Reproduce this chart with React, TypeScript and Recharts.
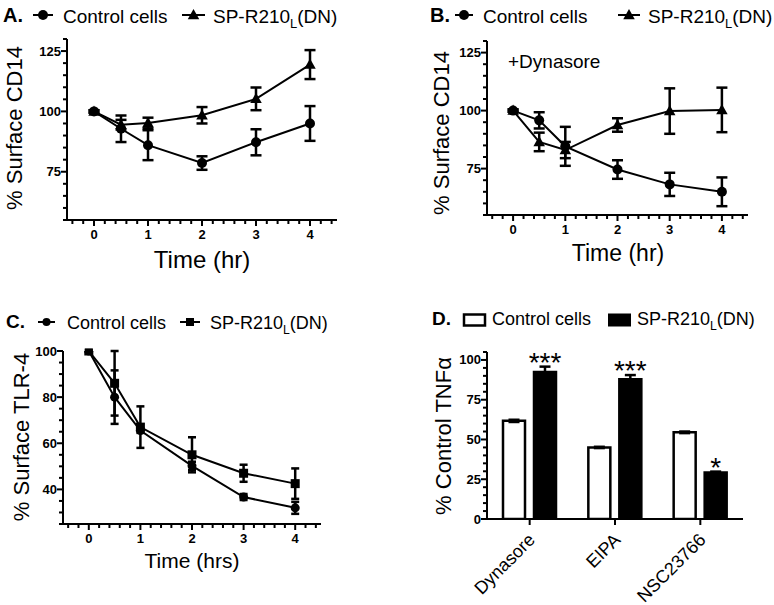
import React from 'react';
import { ComposedChart, Line, Bar, XAxis, YAxis, ErrorBar, LabelList } from 'recharts';

const FONT = '"Liberation Sans", Arial, Helvetica, sans-serif';

// time points (hr)
const hours = [0, 0.5, 1, 2, 3, 4];

// A. surface CD14
const ctrlA = [100, 92.8, 86, 78.6, 87.2, 95];
const ctrlAErr = [0.5, 5.5, 6.2, 2.8, 5.4, 7.2];
const spA = [100, 94.5, 95.2, 98.4, 105.2, 119.4];
const spAErr = [0.5, 2, 2.2, 3.4, 4.7, 6];

// B. surface CD14, +Dynasore
const ctrlB = [100, 95.8, 84.6, 74.6, 68.2, 65];
const ctrlBErr = [0.5, 3.5, 8.4, 4, 5, 6.2];
const spB = [100, 86.5, 83, 93.8, 99.8, 100.3];
const spBErr = [0.5, 4, 3.5, 2.9, 9.8, 9.6];

// C. surface TLR-4
const ctrlC = [100, 80, 65.5, 50.2, 36.7, 32];
const ctrlCErr = [0.5, 11.6, 1, 1.8, 1.3, 2.6];
const spC = [100, 86, 67, 55, 47, 42.5];
const spCErr = [0.5, 14, 9, 7.6, 3.7, 6.6];

// D. TNFa
const drugs = ['Dynasore', 'EIPA', 'NSC23766'];
const ctrlD = [61.7, 45, 54.5];
const ctrlDErr = [0.7, 0.4, 0.5];
const spD = [92.5, 87.8, 29.2];
const spDErr = [3.3, 2.7, 0.6];
const stars = ['***', '***', '*'];

// ticks (major ones get labels)
const timeTicks = [0, 1, 2, 3, 4];
const timeMinor = [-0.4, -0.2, 0, 0.2, 0.4, 0.6, 0.8, 1, 1.2, 1.4, 1.6, 1.8, 2, 2.2, 2.4, 2.6, 2.8, 3, 3.2, 3.4, 3.6, 3.8, 4, 4.2, 4.4];
const cd14Ticks = [75, 100, 125];
const cd14Minor = [55, 60, 65, 70, 75, 80, 85, 90, 95, 100, 105, 110, 115, 120, 125, 130];
const tlrTicks = [40, 60, 80, 100];
const tlrMinor = [25, 30, 35, 40, 45, 50, 55, 60, 65, 70, 75, 80, 85, 90, 95, 100];
const tnfTicks = [0, 25, 50, 75, 100];
const tnfMinor = [0, 5, 10, 15, 20, 25, 30, 35, 40, 45, 50, 55, 60, 65, 70, 75, 80, 85, 90, 95, 100, 105];

const dataA = hours.map((t, i) => ({ t, ctrl: ctrlA[i], ctrlErr: ctrlAErr[i], sp: spA[i], spErr: spAErr[i] }));
const dataB = hours.map((t, i) => ({ t, ctrl: ctrlB[i], ctrlErr: ctrlBErr[i], sp: spB[i], spErr: spBErr[i] }));
const dataC = hours.map((t, i) => ({ t, ctrl: ctrlC[i], ctrlErr: ctrlCErr[i], sp: spC[i], spErr: spCErr[i] }));
const dataD = drugs.map((drug, i) => ({ drug, ctrl: ctrlD[i], ctrlErr: ctrlDErr[i], sp: spD[i], spErr: spDErr[i], star: stars[i] }));

function Shape({ kind, cx, cy, s }: { kind: string; cx: number; cy: number; s: number }) {
  if (kind === 'tri') {
    return (
      <polygon
        points={`${cx},${cy - s * 1.2} ${cx - s * 1.15},${cy + s * 0.85} ${cx + s * 1.15},${cy + s * 0.85}`}
        fill="#000"
      />
    );
  }
  if (kind === 'sq') return <rect x={cx - s} y={cy - s} width={s * 2} height={s * 2} fill="#000" />;
  return <circle cx={cx} cy={cy} r={s} fill="#000" />;
}

const dotOf = (kind: string, s: number) => (p: any) => {
  if (p.cx == null || p.cy == null) return <g key={p.key} />;
  return <Shape key={p.key} kind={kind} cx={p.cx} cy={p.cy} s={s} />;
};

const axisStroke = { stroke: '#000', strokeWidth: 2 };

// ticks drawn by hand so minor ticks can be shorter and unlabeled
const xTickOf = (majors: number[]) => (props: any) => {
  const { x, y, payload } = props;
  const major = majors.includes(payload.value);
  return (
    <g>
      <path d={`M${x},${y}V${y + (major ? 6 : 4)}`} stroke="#000" strokeWidth={2} fill="none" />
      {major && (
        <text x={x} y={y + 19} textAnchor="middle" fontSize={13} fontWeight="bold" fontFamily={FONT} fill="#000">
          {payload.value}
        </text>
      )}
    </g>
  );
};

const yTickOf = (majors: number[]) => (props: any) => {
  const { x, y, payload } = props;
  const major = majors.includes(payload.value);
  return (
    <g>
      <path d={`M${x},${y}H${x - (major ? 6 : 4)}`} stroke="#000" strokeWidth={2} fill="none" />
      {major && (
        <text x={x - 6} y={y + 4.5} textAnchor="end" fontSize={13} fontWeight="bold" fontFamily={FONT} fill="#000">
          {payload.value}
        </text>
      )}
    </g>
  );
};

function TimeChart(props: any) {
  const { data, margin, yDomain, yTicks, yMinor, ctrlKind, spKind, ctrlSize, spSize, cap } = props;
  return (
    <ComposedChart width={387} height={props.height} data={data} margin={margin}>
      <XAxis dataKey="t" type="number" domain={[-0.5, 4.5]} ticks={timeMinor} interval={0} height={30}
        axisLine={axisStroke} tickLine={false} tickSize={0} tickMargin={0} tick={xTickOf(timeTicks)} allowDataOverflow />
      <YAxis type="number" domain={yDomain} ticks={yMinor} interval={0} width={50}
        axisLine={axisStroke} tickLine={false} tickSize={0} tickMargin={0} tick={yTickOf(yTicks)} allowDataOverflow />
      <Line dataKey="ctrl" stroke="#000" strokeWidth={2} dot={dotOf(ctrlKind, ctrlSize)} activeDot={false} isAnimationActive={false}>
        <ErrorBar dataKey="ctrlErr" direction="y" width={cap} strokeWidth={2.5} stroke="#000" />
      </Line>
      <Line dataKey="sp" stroke="#000" strokeWidth={2} dot={dotOf(spKind, spSize)} activeDot={false} isAnimationActive={false}>
        <ErrorBar dataKey="spErr" direction="y" width={cap} strokeWidth={2.5} stroke="#000" />
      </Line>
    </ComposedChart>
  );
}

const CatTick = (props: any) => {
  const { x, y, payload } = props;
  const px = x + 6.5;
  const py = y + 14;
  return (
    <text x={px} y={py} transform={`rotate(-45 ${px} ${py})`} textAnchor="end" fontSize={18} fontFamily={FONT} fill="#000">
      {payload.value}
    </text>
  );
};

const StarLabel = (props: any) => {
  const { x, y, width, height, value, index } = props;
  const errPx = height > 0 ? (spDErr[index] * height) / spD[index] : 0;
  return (
    <text x={x + width / 2} y={y - errPx + 5} textAnchor="middle" fontSize={28} fontFamily={FONT} fill="#000">
      {value}
    </text>
  );
};

function SpText({ x, y, size }: { x: number; y: number; size: number }) {
  return (
    <text x={x} y={y} fontSize={size} fontFamily={FONT} fill="#000">
      SP-R210<tspan fontSize={size * 0.68} dy={5}>L</tspan><tspan dy={-5}>(DN)</tspan>
    </text>
  );
}

function LineKey({ x1, x2, y, kind, s }: { x1: number; x2: number; y: number; kind: string; s: number }) {
  return (
    <g>
      <line x1={x1} x2={x2} y1={y} y2={y} stroke="#000" strokeWidth={2} />
      <Shape kind={kind} cx={(x1 + x2) / 2} cy={y} s={s} />
    </g>
  );
}

const overlay: React.CSSProperties = { position: 'absolute', left: 0, top: 0, pointerEvents: 'none' };

function VTitle({ x, y, size, children }: any) {
  return (
    <text transform={`translate(${x} ${y}) rotate(-90)`} textAnchor="middle" fontSize={size} fontFamily={FONT} fill="#000">
      {children}
    </text>
  );
}

export default function App() {
  return (
    <div style={{ position: 'absolute', left: 0, top: 0, width: 774, height: 605, background: '#fff', overflow: 'hidden' }}>
      {/* A */}
      <div style={{ position: 'absolute', left: 0, top: 0, width: 387, height: 290 }}>
        <TimeChart data={dataA} height={290} margin={{ top: 39, right: 50, bottom: 40, left: 17 }}
          yDomain={[55, 130]} yTicks={cd14Ticks} yMinor={cd14Minor}
          ctrlKind="circle" spKind="tri" ctrlSize={5} spSize={5} cap={5.5} />
        <svg width={387} height={290} style={overlay}>
          <text x={3} y={22} fontSize={20} fontWeight="bold" fontFamily={FONT}>A.</text>
          <LineKey x1={33} x2={53} y={15} kind="circle" s={5} />
          <text x={63} y={23} fontSize={19} fontFamily={FONT}>Control cells</text>
          <LineKey x1={182} x2={205} y={15} kind="tri" s={5} />
          <SpText x={213} y={23} size={19} />
          <VTitle x={22} y={128} size={22}>% Surface CD14</VTitle>
          <text x={202} y={268} textAnchor="middle" fontSize={24} fontFamily={FONT}>Time (hr)</text>
        </svg>
      </div>
      {/* B */}
      <div style={{ position: 'absolute', left: 387, top: 0, width: 387, height: 290 }}>
        <TimeChart data={dataB} height={290} margin={{ top: 41, right: 26, bottom: 45, left: 50 }}
          yDomain={[55, 130]} yTicks={cd14Ticks} yMinor={cd14Minor}
          ctrlKind="circle" spKind="tri" ctrlSize={5} spSize={5} cap={5.5} />
        <svg width={387} height={290} style={overlay}>
          <text x={43} y={22} fontSize={20} fontWeight="bold" fontFamily={FONT}>B.</text>
          <LineKey x1={68} x2={86} y={15} kind="circle" s={5} />
          <text x={96} y={23} fontSize={19} fontFamily={FONT}>Control cells</text>
          <LineKey x1={231} x2={253} y={15} kind="tri" s={5} />
          <SpText x={261} y={23} size={19} />
          <text x={121} y={68} fontSize={19} fontFamily={FONT}>+Dynasore</text>
          <VTitle x={62} y={133} size={22}>% Surface CD14</VTitle>
          <text x={231} y={261} textAnchor="middle" fontSize={23} fontFamily={FONT}>Time (hr)</text>
        </svg>
      </div>
      {/* C */}
      <div style={{ position: 'absolute', left: 0, top: 290, width: 387, height: 315 }}>
        <TimeChart data={dataC} height={315} margin={{ top: 61, right: 66, bottom: 51, left: 13 }}
          yDomain={[25, 100]} yTicks={tlrTicks} yMinor={tlrMinor}
          ctrlKind="circle" spKind="sq" ctrlSize={4.5} spSize={4.5} cap={4} />
        <svg width={387} height={315} style={overlay}>
          <text x={6} y={38} fontSize={19} fontWeight="bold" fontFamily={FONT}>C.</text>
          <LineKey x1={38} x2={55} y={32} kind="circle" s={4} />
          <text x={67} y={39} fontSize={18} fontFamily={FONT}>Control cells</text>
          <LineKey x1={180} x2={200} y={32} kind="sq" s={4} />
          <SpText x={210} y={39} size={18} />
          <VTitle x={29} y={147} size={22}>% Surface TLR-4</VTitle>
          <text x={192} y={278} textAnchor="middle" fontSize={21} fontFamily={FONT}>Time (hrs)</text>
        </svg>
      </div>
      {/* D */}
      <div style={{ position: 'absolute', left: 387, top: 290, width: 387, height: 315 }}>
        <ComposedChart width={387} height={315} data={dataD} margin={{ top: 62, right: 31, bottom: 56, left: 50 }}
          barSize={22} barGap={9}>
          <XAxis dataKey="drug" type="category" height={30} interval={0} axisLine={axisStroke}
            tickLine={axisStroke} tickSize={6} tick={CatTick} />
          <YAxis type="number" domain={[0, 105]} ticks={tnfMinor} interval={0} width={50}
            axisLine={axisStroke} tickLine={false} tickSize={0} tickMargin={0} tick={yTickOf(tnfTicks)} allowDataOverflow />
          <Bar dataKey="ctrl" fill="#fff" stroke="#000" strokeWidth={2.5} isAnimationActive={false}>
            <ErrorBar dataKey="ctrlErr" direction="y" width={5.5} strokeWidth={2.5} stroke="#000" />
          </Bar>
          <Bar dataKey="sp" fill="#000" stroke="#000" strokeWidth={2.5} isAnimationActive={false}>
            <ErrorBar dataKey="spErr" direction="y" width={5.5} strokeWidth={2.5} stroke="#000" />
            <LabelList dataKey="star" content={StarLabel} />
          </Bar>
        </ComposedChart>
        <svg width={387} height={315} style={overlay}>
          <text x={45} y={35} fontSize={19} fontWeight="bold" fontFamily={FONT}>D.</text>
          <rect x={77} y={24.5} width={21} height={11} fill="#fff" stroke="#000" strokeWidth={2.5} />
          <text x={105} y={35} fontSize={18} fontFamily={FONT}>Control cells</text>
          <rect x={221} y={23.5} width={23} height={13} fill="#000" />
          <SpText x={250} y={35} size={18} />
          <VTitle x={64} y={146} size={22}>% Control TNFα</VTitle>
        </svg>
      </div>
    </div>
  );
}
